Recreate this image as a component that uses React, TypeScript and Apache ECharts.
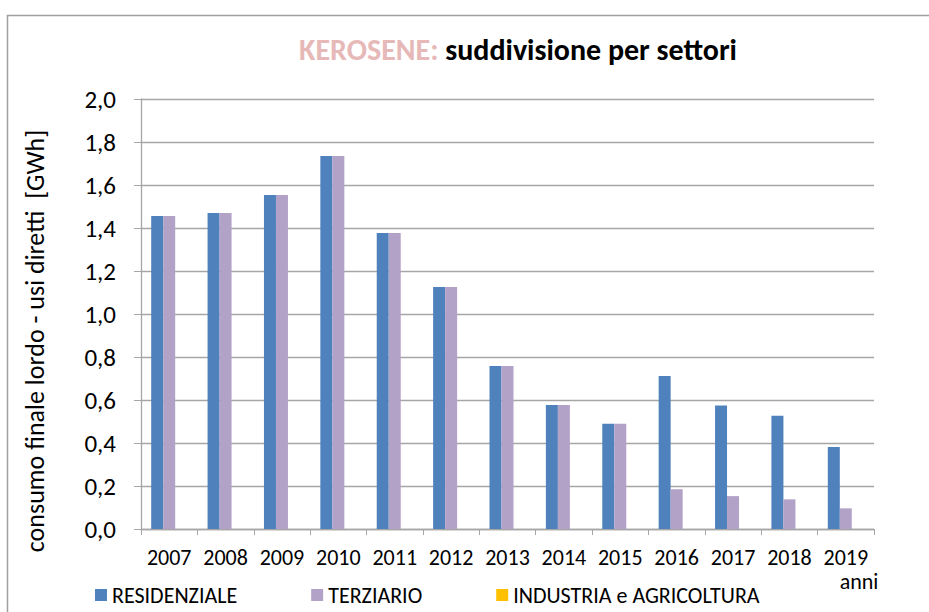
import React, { useEffect, useRef } from "react";
import * as echarts from "echarts";

const years = ["2007", "2008", "2009", "2010", "2011", "2012", "2013", "2014", "2015", "2016", "2017", "2018", "2019"];
const residenziale = [1.456, 1.47, 1.553, 1.735, 1.377, 1.126, 0.758, 0.577, 0.49, 0.712, 0.574, 0.527, 0.381];
const terziario = [1.456, 1.47, 1.553, 1.735, 1.377, 1.126, 0.758, 0.577, 0.49, 0.185, 0.153, 0.138, 0.096];
const industria = [0, 0, 0, 0, 0, 0, 0, 0, 0, 0, 0, 0, 0];

const FONT = "Carlito, Lato, sans-serif";

export default function App() {
  const ref = useRef<HTMLDivElement>(null);
  useEffect(() => {
    const chart = echarts.init(ref.current!, null, { renderer: "svg" });
    chart.setOption({
      animation: false,
      backgroundColor: "#ffffff",
      textStyle: { fontFamily: FONT },
      title: {
        text: "{a|KEROSENE: }{b|suddivisione per settori}",
        left: 513,
        textAlign: "center",
        top: 29,
        textStyle: {
          rich: {
            a: { color: "#E6B9B8", fontSize: 30, fontWeight: "bold", fontFamily: FONT },
            b: { color: "#000000", fontSize: 30, fontWeight: "bold", fontFamily: FONT },
          },
        },
      },
      graphic: [
        {
          type: "rect",
          shape: { x: 7.5, y: 15.5, width: 1000, height: 1000 },
          style: { fill: "none", stroke: "#A0A0A0", lineWidth: 1.5 },
          silent: true,
        },
        {
          type: "text",
          x: 859,
          y: 581,
          style: { text: "anni", fontSize: 22, fontFamily: FONT, fill: "#000", align: "center", verticalAlign: "middle" },
        },
        {
          type: "text",
          x: 35,
          y: 341,
          rotation: Math.PI / 2,
          style: {
            text: "consumo finale lordo - usi diretti  [GWh]",
            fontSize: 26,
            fontFamily: FONT,
            fill: "#000",
            align: "center",
            verticalAlign: "middle",
          },
        },
      ],
      legend: {
        left: 90,
        top: 579,
        padding: 5,
        itemWidth: 12,
        itemHeight: 12,
        itemGap: 74,
        icon: "rect",
        textStyle: { fontSize: 22, lineHeight: 22, fontFamily: FONT, color: "#000" },
        data: ["RESIDENZIALE", "TERZIARIO", "INDUSTRIA e AGRICOLTURA"],
      },
      grid: { left: 141, right: 55, top: 99, bottom: 83, containLabel: false },
      xAxis: {
        type: "category",
        data: years,
        axisLine: { show: true, lineStyle: { color: "#A6A6A6", width: 1.3 } },
        axisTick: { show: true, alignWithLabel: false, length: 6, lineStyle: { color: "#A6A6A6" } },
        axisLabel: { fontSize: 22, color: "#000", margin: 17, interval: 0, fontFamily: FONT },
      },
      yAxis: {
        type: "value",
        min: 0,
        max: 2,
        interval: 0.2,
        axisLine: { show: true, lineStyle: { color: "#A6A6A6", width: 1.3 } },
        axisTick: { show: true, inside: false, length: 7, lineStyle: { color: "#A6A6A6" } },
        splitLine: { show: true, lineStyle: { color: "#A6A6A6", width: 1.3 } },
        axisLabel: {
          fontSize: 25,
          color: "#000",
          margin: 25,
          fontFamily: FONT,
          formatter: (v: number) => v.toFixed(1).replace(".", ","),
        },
      },
      series: [
        { name: "RESIDENZIALE", type: "bar", data: residenziale, barWidth: 12, barGap: "0%", itemStyle: { color: "#4F81BD" } },
        { name: "TERZIARIO", type: "bar", data: terziario, barWidth: 12, barGap: "0%", itemStyle: { color: "#B3A2C7" } },
        { name: "INDUSTRIA e AGRICOLTURA", type: "bar", data: industria, barWidth: 12, barGap: "0%", itemStyle: { color: "#FFC000" } },
      ],
    });
    return () => chart.dispose();
  }, []);
  return <div ref={ref} style={{ width: 929, height: 612, position: "absolute", left: 0, top: 0 }} />;
}
